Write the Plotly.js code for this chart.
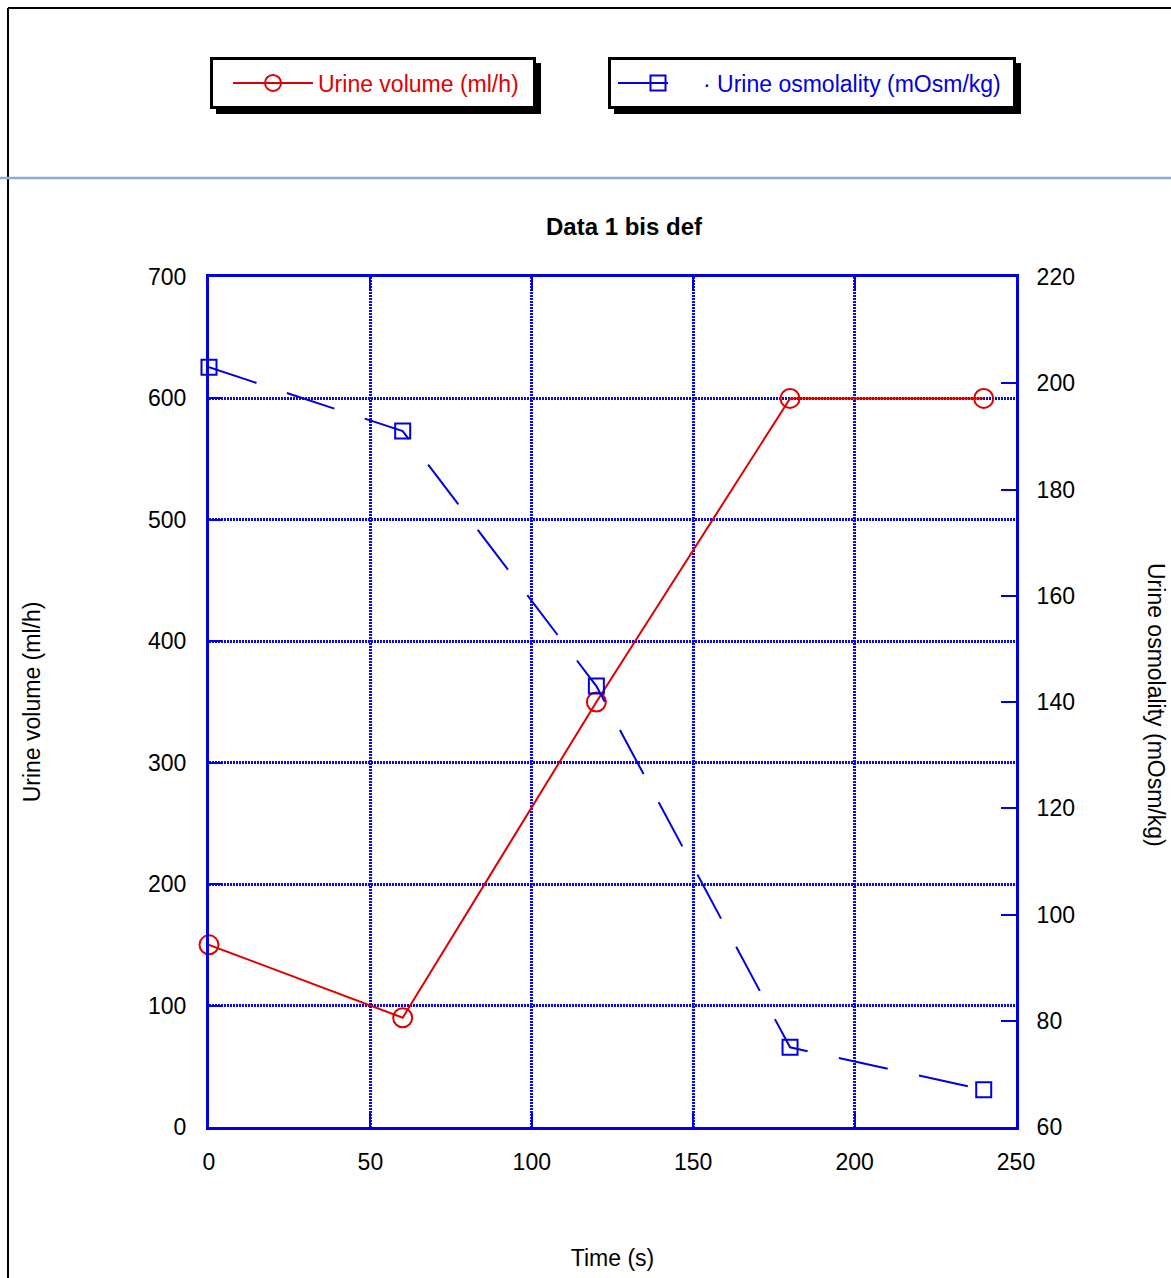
<!DOCTYPE html>
<html>
<head>
<meta charset="utf-8">
<script src="https://cdn.plot.ly/plotly-3.0.1.min.js"></script>
<style>html,body{margin:0;padding:0;background:#fff;}#chart{width:1171px;height:1278px;}</style>
</head>
<body>
<div id="chart"></div>
<script>
const timeS = [0, 60, 120, 180, 240];
const urineVolume = [150, 90, 350, 600, 600];
const urineOsmolality = [203, 191, 143, 75, 67];
const volumeName = 'Urine volume (ml/h)';
const osmolalityName = '\u00b7 Urine osmolality (mOsm/kg)';

const W = 1171, H = 1278;
const L = 209, R = 1016, T = 277, B = 1127;
const px = x => (x - L) / (R - L);
const py = y => (B - y) / (B - T);

const FONT = 'Liberation Sans, Arial, sans-serif';
const FS = 23;
const RED = '#e00000';
const BLUE = '#0000e0';

const traces = [
  {
    x: timeS, y: urineVolume, name: volumeName, type: 'scatter', mode: 'lines+markers',
    line: {color: RED, width: 2}, cliponaxis: false,
    marker: {symbol: 'circle-open', size: 19, color: RED, line: {width: 2, color: RED}},
    legend: 'legend', yaxis: 'y'
  },
  {
    x: timeS, y: urineOsmolality, name: osmolalityName, type: 'scatter', mode: 'lines+markers',
    line: {color: BLUE, width: 2, dash: '50px,32px'}, cliponaxis: false,
    marker: {symbol: 'square-open', size: 15, color: BLUE, line: {width: 2, color: BLUE}},
    legend: 'legend2', yaxis: 'y2'
  }
];

const legendCommon = {
  xref: 'container', yref: 'container', xanchor: 'left', yanchor: 'middle',
  bgcolor: 'rgba(0,0,0,0)', borderwidth: 0,
  orientation: 'h', itemwidth: 80
};

const tickFont = {family: FONT, size: FS, color: '#000'};

const layout = {
  width: W, height: H,
  margin: {l: L, r: W - R, t: T, b: H - B},
  paper_bgcolor: '#ffffff', plot_bgcolor: '#ffffff',
  font: {family: FONT, size: FS, color: '#000'},
  showlegend: true,
  title: {text: '<b>Data 1 bis def</b>', x: 624 / W, xanchor: 'center', y: 1 - 227 / H, yanchor: 'middle', xref: 'container', yref: 'container', font: {family: FONT, size: 24, color: '#000'}},
  xaxis: {
    range: [0, 250], dtick: 50, tick0: 0,
    showgrid: true, gridcolor: '#0a0ae8', gridwidth: 2.5, griddash: '2px,1px',
    zeroline: false, showline: true, linecolor: BLUE, linewidth: 3, mirror: 'ticks',
    ticks: 'inside', ticklen: 14, tickwidth: 2, tickcolor: BLUE,
    tickfont: tickFont, ticklabelstandoff: 12,
    title: {text: 'Time (s)', standoff: 77, font: tickFont}
  },
  yaxis: {
    range: [0, 700], dtick: 100, tick0: 0,
    showgrid: true, gridcolor: '#0a0ae8', gridwidth: 2.5, griddash: '2px,1px',
    zeroline: false, showline: true, linecolor: BLUE, linewidth: 3, mirror: true,
    ticks: 'inside', ticklen: 13, tickwidth: 2, tickcolor: BLUE,
    tickfont: tickFont, ticklabelstandoff: 15,
    title: {text: 'Urine volume (ml/h)', standoff: 101, font: tickFont}
  },
  yaxis2: {
    range: [60, 220], dtick: 20, tick0: 60, overlaying: 'y', side: 'right',
    showgrid: false, zeroline: false, showline: true, linecolor: BLUE, linewidth: 3,
    ticks: 'inside', ticklen: 15, tickwidth: 2, tickcolor: BLUE,
    tickfont: tickFont, ticklabelstandoff: 13
  },
  legend: Object.assign({}, legendCommon, {x: 228 / W, y: 1 - 83 / H, font: {family: FONT, size: FS, color: RED}}),
  legend2: Object.assign({}, legendCommon, {x: 613 / W, y: 1 - 83 / H, font: {family: FONT, size: FS, color: BLUE}}),
  annotations: [
    {text: 'Urine osmolality (mOsm/kg)', textangle: 90, xref: 'paper', yref: 'paper', x: px(1156), y: py(705), showarrow: false, xanchor: 'center', yanchor: 'middle', font: tickFont}
  ],
  shapes: [
    // legend shadows and boxes
    {type: 'rect', xref: 'paper', yref: 'paper', x0: px(216), x1: px(541), y0: py(114), y1: py(63), fillcolor: '#000', line: {width: 0}, layer: 'above'},
    {type: 'rect', xref: 'paper', yref: 'paper', x0: px(211.5), x1: px(534.5), y0: py(107.5), y1: py(58.5), fillcolor: '#fff', line: {width: 3, color: '#000'}, layer: 'above'},
    {type: 'rect', xref: 'paper', yref: 'paper', x0: px(614), x1: px(1021), y0: py(114), y1: py(63), fillcolor: '#000', line: {width: 0}, layer: 'above'},
    {type: 'rect', xref: 'paper', yref: 'paper', x0: px(609.5), x1: px(1014.5), y0: py(107.5), y1: py(58.5), fillcolor: '#fff', line: {width: 3, color: '#000'}, layer: 'above'},
    // outer frame
    {type: 'line', xref: 'paper', yref: 'paper', x0: px(8), x1: px(1175), y0: py(8), y1: py(8), line: {color: '#000', width: 2}},
    {type: 'line', xref: 'paper', yref: 'paper', x0: px(8), x1: px(8), y0: py(8), y1: py(1282), line: {color: '#000', width: 2}},
    // separator
    {type: 'line', xref: 'paper', yref: 'paper', x0: px(-2), x1: px(1175), y0: py(178), y1: py(178), line: {color: '#8eaadb', width: 2.5}}
  ]
};

Plotly.newPlot('chart', traces, layout, {displayModeBar: false, responsive: false});
</script>
</body>
</html>
